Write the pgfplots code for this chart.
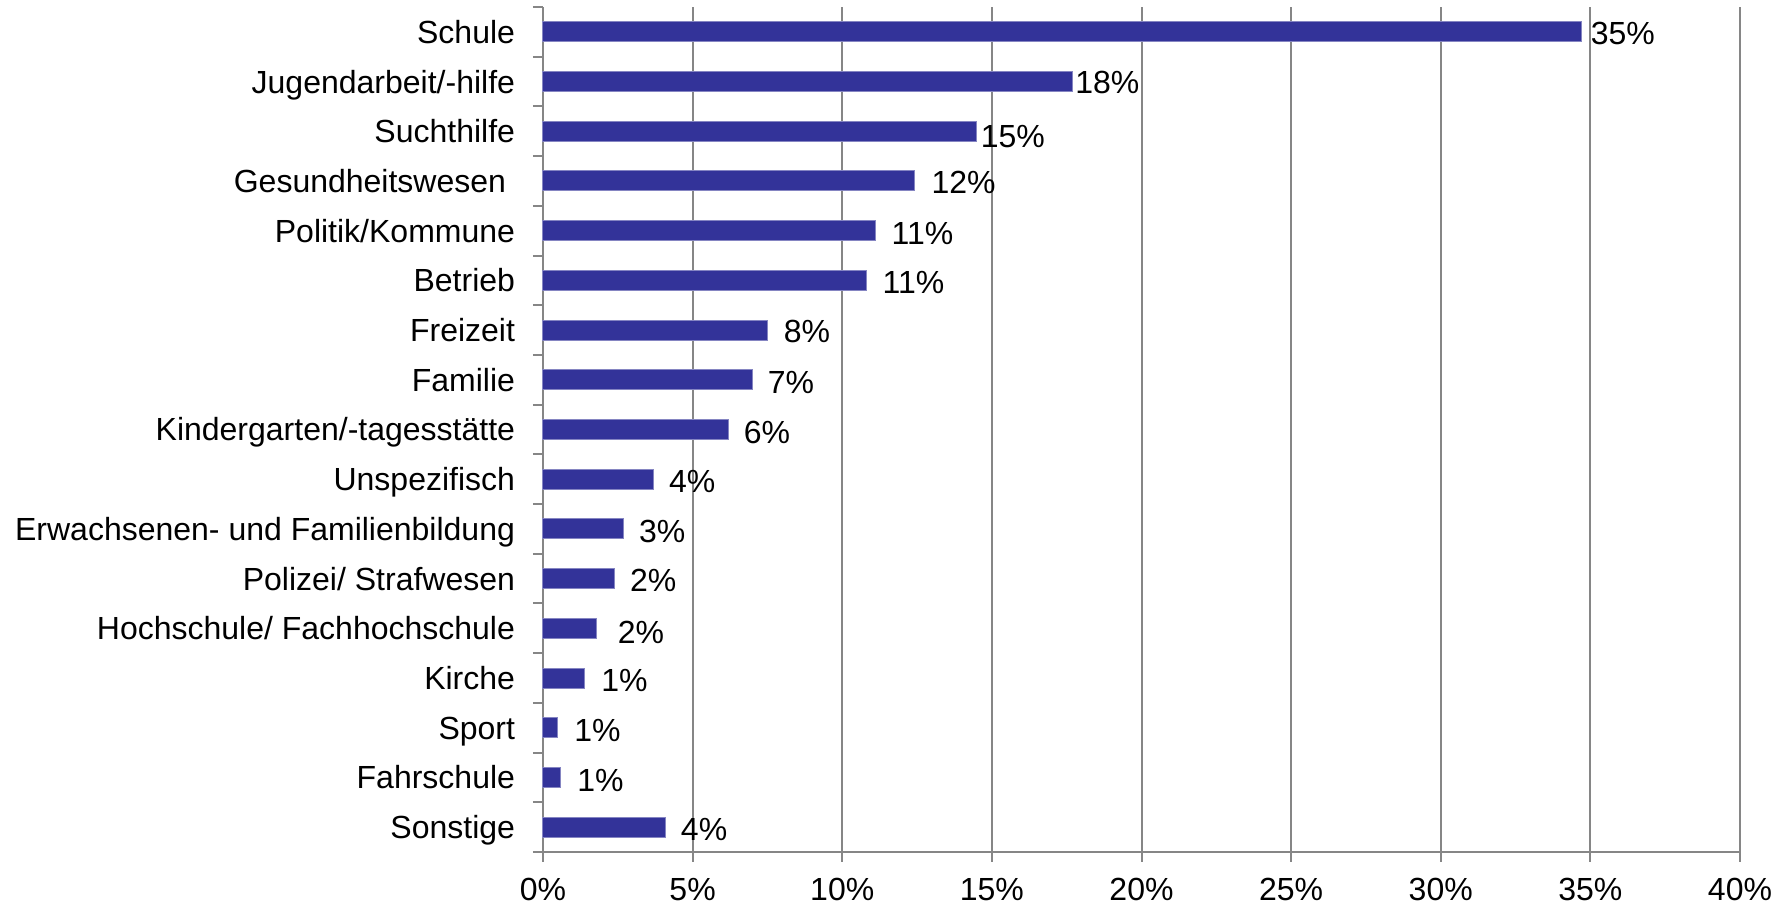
\documentclass[border=0pt]{standalone}
\usepackage{pgfplots}
\pgfplotsset{compat=1.18}
\usepackage{pgfplotstable}
\usepackage{fontspec}
\setmainfont{Liberation Sans}
\definecolor{barblue}{RGB}{51,51,153}
\definecolor{axgray}{RGB}{134,134,134}
\pgfplotstableread{
y x lab dx dy
16 34.7 35 4.5 -0.6
15 17.7 18 1.1 0
14 14.5 15 1.7 -2.3
13 12.4 12 8.5 -0.6
12 11.1 11 8 -1.1
11 10.8 11 8 -0.6
10 7.5 8 8 -0.3
9 7.0 7 7.4 -1.1
8 6.2 6 7.4 -1.1
7 3.7 4 7.4 -1.1
6 2.7 3 7.4 -1.1
5 2.4 2 7.4 -0.6
4 1.8 2 10.2 -1.7
3 1.4 1 8 -1.1
2 0.5 1 8 -1.1
1 0.6 1 8 -1.1
0 4.1 4 7.4 -1.1
}\datatable
\begin{document}
\begin{tikzpicture}
\path (-271.5pt,-28pt) rectangle (619.5pt,426pt);
\begin{axis}[
  at={(0,0)}, anchor=south west,
  scale only axis,
  width=598.5pt, height=422.5pt,
  xmin=0, xmax=40,
  ymin=-0.5, ymax=16.5,
  xbar, bar width=10pt,
  axis lines*=left,
  axis line style={axgray, line width=1pt},
  xmajorgrids,
  grid style={axgray, line width=1pt},
  xtick={0,5,...,40},
  xticklabels={0\%,5\%,10\%,15\%,20\%,25\%,30\%,35\%,40\%},
  ytick={0,...,16},
  yticklabels={Sonstige,Fahrschule,Sport,Kirche,Hochschule/ Fachhochschule,Polizei/ Strafwesen,Erwachsenen- und Familienbildung,Unspezifisch,Kindergarten/-tagesstätte,Familie,Freizeit,Betrieb,Politik/Kommune,{Gesundheitswesen\hspace*{4.5pt}},Suchthilfe,Jugendarbeit/-hilfe,Schule},
  minor ytick={-0.5,0.5,...,16.5},
  tick align=outside,
  major tick length=5pt,
  minor tick length=5pt,
  major x tick style={axgray, line width=1pt},
  major y tick style={draw=none},
  minor y tick style={axgray, line width=1pt},
  tick label style={font=\fontsize{16pt}{19pt}\selectfont},
  yticklabel style={anchor=base east, inner sep=0pt, xshift=-8.8pt, yshift=-5.75pt},
  xticklabel style={anchor=north, inner sep=0pt, yshift=-8pt},
  /pgf/number format/assume math mode=true,
  point meta=explicit,
  nodes near coords={\pgfmathprintnumber{\pgfplotspointmeta}\%},
  visualization depends on={\thisrow{dx} \as \dx},
  visualization depends on={\thisrow{dy} \as \dy},
  nodes near coords style={anchor=base west, inner sep=0pt, font=\fontsize{16pt}{19pt}\selectfont, text=black, xshift=\dx pt, yshift=\dy pt-5.75pt},
  clip=false,
]
\addplot[fill=barblue, draw=barblue!60!white, line width=0.5pt] table[x=x, y=y, meta=lab] {\datatable};
\end{axis}
\end{tikzpicture}
\end{document}
